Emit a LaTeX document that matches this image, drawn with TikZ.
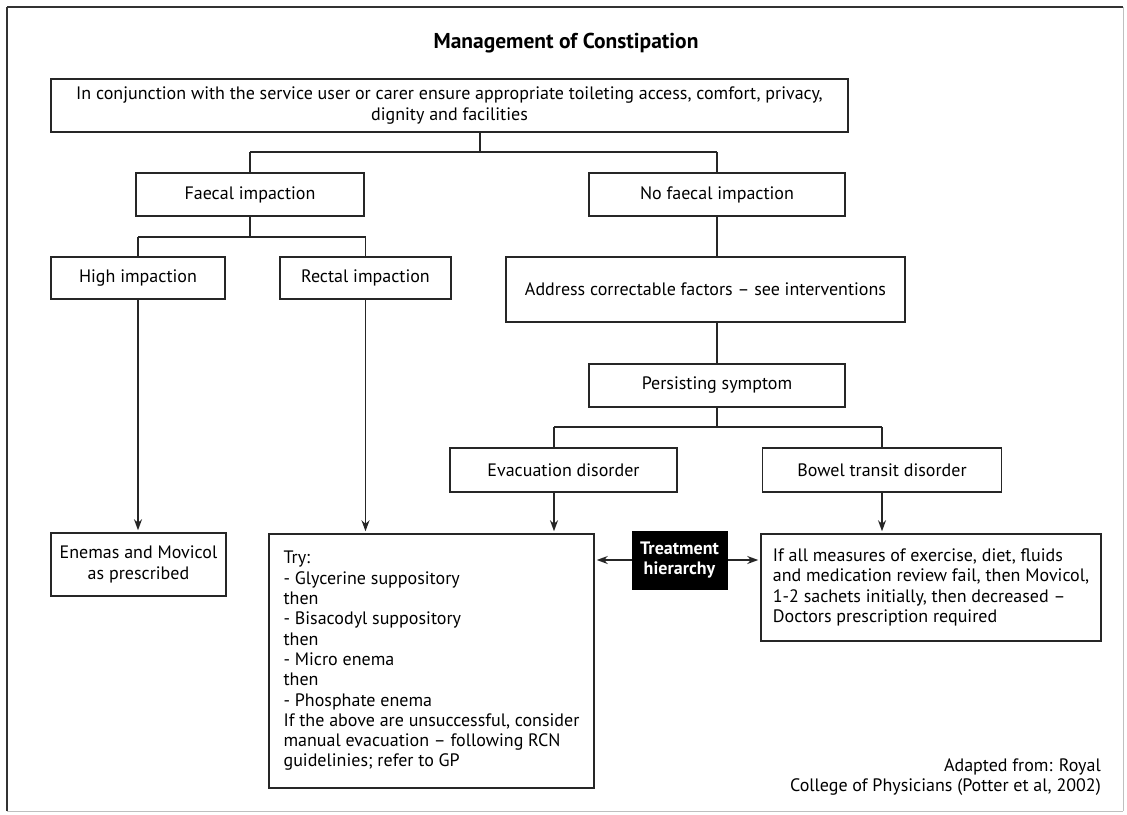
\documentclass[tikz,border=0pt]{standalone}
\usepackage{fontspec}
\setmainfont{PT Sans}
\usepackage{tikz}
\usetikzlibrary{arrows.meta,backgrounds}
\tikzstyle{none}=[inner sep=0pt]
\tikzstyle{heading}=[inner sep=0pt,font=\fontsize{21.5}{24}\selectfont\bfseries]
\tikzstyle{box}=[rectangle,draw=black!85,line width=1.5,fill=white,inner sep=0pt,align=center,font=\fontsize{18}{20.3}\selectfont]
\tikzstyle{listbox}=[box,align=left]
\tikzstyle{blackbox}=[rectangle,fill=black,draw=black,text=white,inner sep=0pt,align=center,font=\fontsize{18}{20.3}\selectfont\bfseries]
\tikzstyle{source}=[inner sep=0pt,align=right,font=\fontsize{18}{20.3}\selectfont]
\tikzstyle{simple}=[-,draw=black!85,line width=1.4]
\tikzstyle{inarrow}=[->,>={Stealth[length=11pt,width=8pt]},draw=black!85,line width=1.4,shorten >=2pt]
\tikzstyle{border}=[-,draw=black!80,line width=1.2]
\tikzstyle{faint}=[-,draw=black!25,line width=1.0]
\pgfdeclarelayer{edgelayer}
\pgfdeclarelayer{nodelayer}
\pgfsetlayers{edgelayer,nodelayer,main}

\begin{document}
\begin{tikzpicture}[x=1pt,y=-1pt]
	\useasboundingbox (0,0) rectangle (1127,814);
	\begin{pgfonlayer}{nodelayer}
		\node [style=heading] (title) at (566,43) {Management of Constipation};
		\node [style=box, minimum width=797, minimum height=53] (top) at (449.5,105.5) {In conjunction with the service user or carer ensure appropriate toileting access, comfort, privacy,\\dignity and facilities};

		\node [style=box, minimum width=228, minimum height=43] (faecal) at (250,194.5) {Faecal impaction};
		\node [style=box, minimum width=256, minimum height=43] (nofaecal) at (717,194.5) {No faecal impaction};

		\node [style=box, minimum width=174, minimum height=42] (high) at (138,278) {High impaction};
		\node [style=box, minimum width=171, minimum height=42] (rectal) at (365.5,278) {Rectal impaction};
		\node [style=box, minimum width=399, minimum height=65] (address) at (705.5,289.5) {Address correctable factors -- see interventions};

		\node [style=box, minimum width=256, minimum height=43] (persist) at (717,385.5) {Persisting symptom};
		\node [style=box, minimum width=227, minimum height=44] (evac) at (563.5,470) {Evacuation disorder};
		\node [style=box, minimum width=239, minimum height=44] (bowel) at (882,470) {Bowel transit disorder};

		\node [style=box, minimum width=175, minimum height=63] (enemas) at (138.5,564.5) {Enemas and Movicol\\as prescribed};
		\node [style=listbox, minimum width=325, minimum height=254] (try) at (431.5,661) {Try:\\- Glycerine suppository\\then\\- Bisacodyl suppository\\then\\- Micro enema\\then\\- Phosphate enema\\If the above are unsuccessful, consider\\manual evacuation -- following RCN\\guidelinies; refer to GP};
		\node [style=blackbox, minimum width=95, minimum height=58] (treat) at (679.5,560) {Treatment\\hierarchy};
		\node [style=listbox, minimum width=340, minimum height=107] (movicol) at (931,587.5) {If all measures of exercise, diet, fluids\\and medication review fail, then Movicol,\\1-2 sachets initially, then decreased --\\Doctors prescription required};

		\node [style=source, anchor=east] (adapted) at (1101,777) {Adapted from: Royal\\College of Physicians (Potter et al, 2002)};

		% junctions
		\node [style=none] (j1) at (480,152) {};
		\node [style=none] (j1l) at (250,152) {};
		\node [style=none] (j1r) at (717,152) {};
		\node [style=none] (j2) at (250,237) {};
		\node [style=none] (j2l) at (138,237) {};
		\node [style=none] (j2r) at (365.5,237) {};
		\node [style=none] (j3) at (717,427) {};
		\node [style=none] (j3l) at (554,427) {};
		\node [style=none] (j3r) at (882,427) {};

		% page frame
		\node [style=none] (Ftl) at (7,7) {};
		\node [style=none] (Ftr) at (1123,7) {};
		\node [style=none] (Fbl) at (7,811) {};
		\node [style=none] (Fbr) at (1123,811) {};
	\end{pgfonlayer}
	\begin{pgfonlayer}{edgelayer}
		\draw [style=border] (Fbl.center) to (Ftl.center);
		\draw [style=border] (Ftl.center) to (Ftr.center);
		\draw [style=faint] (Ftr.center) to (Fbr.center);
		\draw [style=faint] (Fbr.center) to (Fbl.center);

		\draw [style=simple] (j1.center |- top.south) to (j1.center);
		\draw [style=simple] (j1l.center) to (j1r.center);
		\draw [style=simple] (j1l.center) to (faecal.north);
		\draw [style=simple] (j1r.center) to (nofaecal.north);

		\draw [style=simple] (faecal.south) to (j2.center);
		\draw [style=simple] (j2l.center) to (j2r.center);
		\draw [style=simple] (j2l.center) to (high.north);
		\draw [style=simple] (j2r.center) to (rectal.north);

		\draw [style=simple] (nofaecal.south) to (nofaecal.south |- address.north);
		\draw [style=simple] (persist.north |- address.south) to (persist.north);
		\draw [style=simple] (persist.south) to (j3.center);
		\draw [style=simple] (j3l.center) to (j3r.center);
		\draw [style=simple] (j3l.center) to (j3l.center |- evac.north);
		\draw [style=simple] (j3r.center) to (bowel.north);

		\draw [style=inarrow] (high.south) to (high.south |- enemas.north);
		\draw [style=inarrow] (rectal.south) to (rectal.south |- try.north);
		\draw [style=inarrow] (j3l.center |- evac.south) to (j3l.center |- try.north);
		\draw [style=inarrow] (bowel.south) to (bowel.south |- movicol.north);
		\draw [style=inarrow] (treat.west) to (treat.west -| try.east);
		\draw [style=inarrow] (treat.east) to (treat.east -| movicol.west);
	\end{pgfonlayer}
\end{tikzpicture}
\end{document}
